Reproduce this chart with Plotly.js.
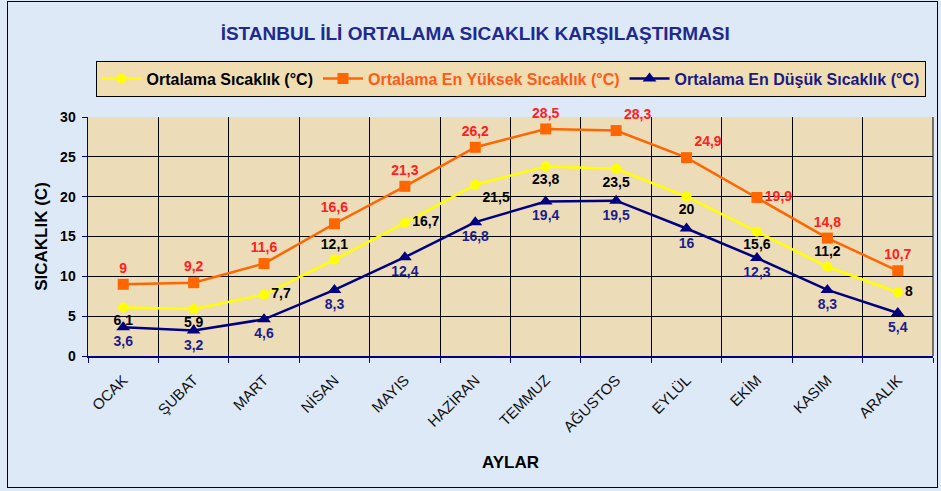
<!DOCTYPE html>
<html><head><meta charset="utf-8">
<script src="https://cdn.plot.ly/plotly-3.0.1.min.js"></script>
<style>html,body{margin:0;padding:0;background:#dde9f6;}#wrap{position:relative;width:941px;height:491px;}#chart{width:941px;height:491px;}
#frame{position:absolute;left:7px;top:1px;width:929px;height:485px;border:1.5px solid #000;pointer-events:none;}</style>
</head><body><div id="wrap"><div id="chart"></div><div id="frame"></div></div>
<script>
const months = ["OCAK","ŞUBAT","MART","NİSAN","MAYIS","HAZİRAN","TEMMUZ","AĞUSTOS","EYLÜL","EKİM","KASIM","ARALIK"];
const avgTemp = [6.1,5.9,7.7,12.1,16.7,21.5,23.8,23.5,20,15.6,11.2,8];
const maxTemp = [9,9.2,11.6,16.6,21.3,26.2,28.5,28.3,24.9,19.9,14.8,10.7];
const minTemp = [3.6,3.2,4.6,8.3,12.4,16.8,19.4,19.5,16,12.3,8.3,5.4];
const seriesNames = ["Ortalama Sıcaklık (°C)","Ortalama En Yüksek Sıcaklık (°C)","Ortalama En Düşük Sıcaklık (°C)"];
const avgPos = ["bottom center","bottom center","middle right","top center","middle right","bottom right","bottom center","bottom center","bottom center","bottom center","top center","middle right"];
const maxPos = ["top center","top center","top center","top center","top center","top center","top center","top right","top right","middle right","top center","top center"];
const minPos = Array(12).fill("bottom center");
const fmt = v => String(v).replace('.', ',');
const F = "Liberation Sans, Arial, sans-serif";

const traces = [
 {x: months, y: avgTemp, name: seriesNames[0], mode: "lines+markers+text", cliponaxis: false,
  line: {color: "#ffff00", width: 2.5}, marker: {symbol: "circle", size: 10, color: "#ffff00"},
  text: avgTemp.map(fmt), textposition: avgPos, textfont: {family: F, size: 14, color: "#000000", weight: "bold"}},
 {x: months, y: maxTemp, name: '<span style="color:#ff5a1a">' + seriesNames[1] + '</span>', mode: "lines+markers+text", cliponaxis: false,
  line: {color: "#ff6600", width: 2.5}, marker: {symbol: "square", size: 11, color: "#ff6600"},
  text: maxTemp.map(fmt), textposition: maxPos, textfont: {family: F, size: 14, color: "#ff2020", weight: "bold"}},
 {x: months, y: minTemp, name: '<span style="color:#1a1a80">' + seriesNames[2] + '</span>', mode: "lines+markers+text", cliponaxis: false,
  line: {color: "#000080", width: 2.5}, marker: {symbol: "triangle-up", size: 12, color: "#000080"},
  text: minTemp.map(fmt), textposition: minPos, textfont: {family: F, size: 14, color: "#1c1c8c", weight: "bold"}}
];

const layout = {
 width: 941, height: 491,
 paper_bgcolor: "#dde9f6", plot_bgcolor: "#ecdcb8",
 margin: {l: 88, r: 8, t: 117, b: 135},
 font: {family: F, size: 12, color: "#000"},
 title: {text: "<b>İSTANBUL İLİ ORTALAMA SICAKLIK KARŞILAŞTIRMASI</b>", font: {family: F, size: 19, color: "#1f2a8f"}, x: 0.505, xanchor: "center", y: 0.933, yanchor: "middle"},
 showlegend: true,
 legend: {orientation: "h", x: 0.5, xanchor: "center", y: 1.161, yanchor: "middle",
   bgcolor: "#f0deb2", bordercolor: "#000", borderwidth: 1,
   font: {family: F, size: 16, color: "#000", weight: "bold"}, itemwidth: 40},
 xaxis: {type: "category", range: [-0.5, 11.5], tickson: "boundaries", ticks: "outside", ticklen: 5, tickcolor: "#000080", ticklabelstandoff: 8,
   showgrid: true, gridcolor: "#000", gridwidth: 1, showline: true, linecolor: "#000080", linewidth: 1.5,
   tickangle: -45, tickfont: {family: F, size: 15, color: "#111"},
   title: {text: "<b>AYLAR</b>", font: {family: F, size: 17, color: "#000"}, standoff: 22}},
 yaxis: {range: [0, 30], dtick: 5, ticks: "outside", ticklen: 5, tickcolor: "#000080", ticklabelstandoff: 3,
   showgrid: true, gridcolor: "#000", gridwidth: 1, showline: true, linecolor: "#000080", linewidth: 1.5,
   zeroline: false, tickfont: {family: F, size: 14, color: "#000", weight: "bold"},
   title: {text: "<b>SICAKLIK (C)</b>", font: {family: F, size: 17, color: "#000"}, standoff: 8}},
 shapes: [
  {type: "line", xref: "paper", yref: "paper", x0: 1, x1: 1, y0: 0, y1: 1, line: {color: "#000", width: 1}}
 ]
};
Plotly.newPlot("chart", traces, layout, {displayModeBar: false, staticPlot: true});
</script></body></html>
